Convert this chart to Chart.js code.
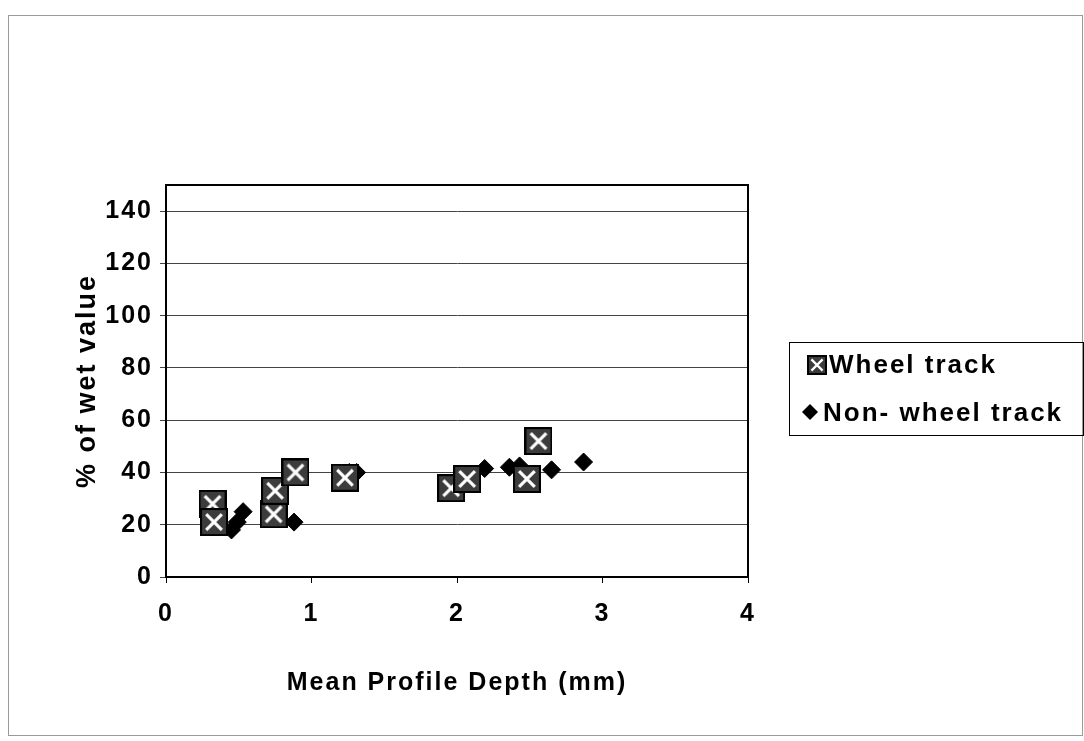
<!DOCTYPE html>
<html>
<head>
<meta charset="utf-8">
<script src="https://cdn.jsdelivr.net/npm/chart.js@4"></script>
<style>
html,body{margin:0;padding:0;background:#fff;}
#wrap{width:1084px;height:741px;position:relative;}
</style>
</head>
<body>
<div id="wrap"><canvas id="c" width="1084" height="741"></canvas></div>
<script>
const seriesNames = ["Wheel track", "Non- wheel track"];
const wheelX = [0.32, 0.33, 0.74, 0.75, 0.89, 1.23, 1.96, 2.07, 2.48, 2.56];
const wheelY = [28, 21, 24, 33, 40, 38, 34, 37.5, 37.5, 52];
const nonWheelX = [0.45, 0.49, 0.53, 0.88, 1.26, 1.31, 2.19, 2.36, 2.43, 2.65, 2.87];
const nonWheelY = [18, 21, 25, 21, 40, 40, 41.5, 42, 42.5, 41, 44];
const xTicks = [0, 1, 2, 3, 4];
const yTicks = [0, 20, 40, 60, 80, 100, 120, 140];
const xTitle = "Mean Profile Depth (mm)";
const yTitle = "% of wet value";

const FONT = "'Liberation Sans', Arial, sans-serif";

function makeSquare(size) {
  const c = document.createElement('canvas');
  c.width = size; c.height = size;
  const g = c.getContext('2d');
  g.fillStyle = '#3c3c3c';
  g.fillRect(0, 0, size, size);
  g.strokeStyle = '#000';
  g.lineWidth = 2;
  g.strokeRect(1, 1, size - 2, size - 2);
  g.strokeStyle = '#fff';
  g.lineWidth = Math.max(2, size / 9);
  const m = size * 0.22;
  g.beginPath();
  g.moveTo(m, m); g.lineTo(size - m, size - m);
  g.moveTo(size - m, m); g.lineTo(m, size - m);
  g.stroke();
  return c;
}
const sqBig = makeSquare(28);
const sqSmall = makeSquare(20);

const toPts = (xs, ys) => xs.map((x, i) => ({x: x, y: ys[i]}));

const frame = {
  id: 'frame',
  beforeDraw(chart) {
    const ctx = chart.ctx;
    ctx.save();
    ctx.fillStyle = '#fff';
    ctx.fillRect(0, 0, chart.width, chart.height);
    ctx.strokeStyle = '#9a9a9a';
    ctx.lineWidth = 1;
    ctx.strokeRect(8.5, 15.5, chart.width - 10, chart.height - 21);
    ctx.restore();
    if ('letterSpacing' in ctx) ctx.letterSpacing = '2px';
  },
  afterDatasetsDraw(chart) {
    const ctx = chart.ctx;
    const a = chart.chartArea;
    ctx.save();
    ctx.strokeStyle = '#000';
    ctx.lineWidth = 2;
    ctx.strokeRect(a.left, a.top, a.right - a.left, a.bottom - a.top);
    // legend
    const lx = 789, ly = 342, lw = 294, lh = 93;
    ctx.lineWidth = 1;
    ctx.strokeRect(lx + 0.5, ly + 0.5, lw, lh);
    ctx.drawImage(sqSmall, 807, 355);
    ctx.fillStyle = '#000';
    ctx.font = 'bold 26px ' + FONT;
    ctx.textBaseline = 'middle';
    ctx.textAlign = 'left';
    ctx.fillText(seriesNames[0], 829, 366);
    // diamond
    ctx.beginPath();
    ctx.moveTo(810, 404); ctx.lineTo(818, 412); ctx.lineTo(810, 420); ctx.lineTo(802, 412);
    ctx.closePath();
    ctx.fill();
    ctx.fillText(seriesNames[1], 823, 414);
    ctx.restore();
  },
  afterDraw(chart) {
    if ('letterSpacing' in chart.ctx) chart.ctx.letterSpacing = '0px';
  }
};

new Chart(document.getElementById('c'), {
  type: 'scatter',
  data: {
    datasets: [
      {
        label: seriesNames[0],
        data: toPts(wheelX, wheelY),
        pointStyle: sqBig,
        pointRadius: 14,
        pointHoverRadius: 14,
        backgroundColor: '#3c3c3c',
        borderColor: '#000'
      },
      {
        label: seriesNames[1],
        data: toPts(nonWheelX, nonWheelY),
        pointStyle: 'rectRot',
        pointRadius: 9,
        pointHoverRadius: 9,
        backgroundColor: '#000',
        borderColor: '#000',
        borderWidth: 1
      }
    ]
  },
  options: {
    responsive: false,
    animation: false,
    devicePixelRatio: 1,
    layout: { padding: { top: 185, right: 336, left: 0, bottom: 0 } },
    plugins: { legend: { display: false }, tooltip: { enabled: false } },
    scales: {
      x: {
        type: 'linear',
        min: 0, max: 4,
        afterFit(s) { s.height = 164; },
        afterBuildTicks(s) { s.ticks = xTicks.map(v => ({value: v})); },
        grid: { display: true, drawOnChartArea: false, drawTicks: true, tickLength: 6, color: '#000' },
        border: { display: true, color: '#000', width: 2 },
        ticks: { color: '#000', padding: 16, font: { family: FONT, size: 25, weight: 'bold' } },
        title: { display: true, text: xTitle, color: '#000', padding: { top: 0, bottom: 43 },
                 font: { family: FONT, size: 25, weight: 'bold' } }
      },
      y: {
        type: 'linear',
        min: 0, max: 150,
        afterFit(s) { s.width = 166; },
        afterBuildTicks(s) { s.ticks = yTicks.map(v => ({value: v})); },
        grid: { color: '#444', lineWidth: 1, drawTicks: true, tickLength: 6 },
        border: { display: true, color: '#000', width: 2 },
        ticks: { color: '#000', padding: 7, font: { family: FONT, size: 25, weight: 'bold' } },
        title: { display: true, text: yTitle, color: '#000', padding: { top: 71, bottom: 0 },
                 font: { family: FONT, size: 27, weight: 'bold' } }
      }
    }
  },
  plugins: [frame]
});
</script>
</body>
</html>
